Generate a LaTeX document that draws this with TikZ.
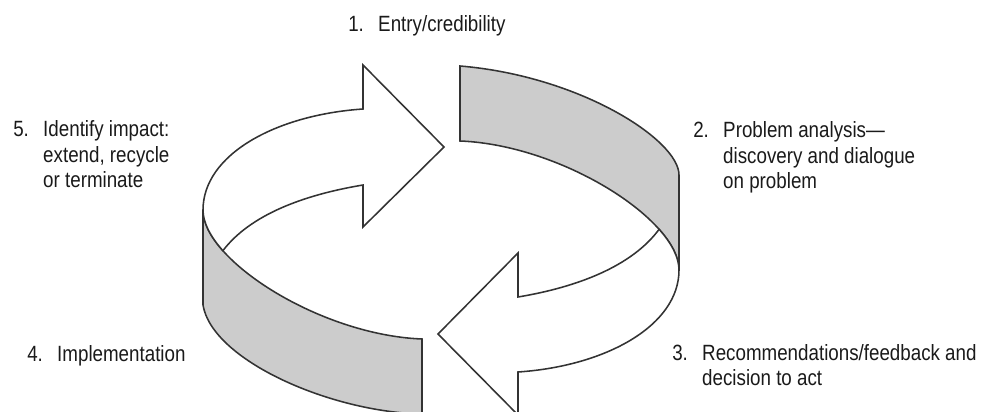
\documentclass[tikz,border=0pt]{standalone}
\usepackage{fontspec}
\setmainfont{Liberation Sans}[FakeStretch=0.85]
\usepackage{array}
\usetikzlibrary{positioning}

\definecolor{ringline}{HTML}{333333}
\definecolor{ringgrey}{HTML}{CCCCCC}
\definecolor{lbltext}{HTML}{1A1A1A}
\newcommand{\lblfont}{\fontsize{15.7pt}{18.1pt}\selectfont}

\begin{document}
\begin{tikzpicture}[
  x=0.025cm, y=-0.025cm,
  ring/.style={draw=ringline, line width=1.1pt, line join=miter},
  face/.style={ring, fill=white},
  side/.style={ring, fill=ringgrey},
  lbl/.style={anchor=base west, inner sep=0pt, text=lbltext, font=\lblfont}
]
\useasboundingbox (0,0) rectangle (984,412);
\clip (0,0) rectangle (984,412);

% where the inner edges meet the outer ones
\coordinate (j1) at (222.9,250.7);
\coordinate (j2) at (659.1,229.3);

% grey sides of the band
\draw[side] (460,66) .. controls (580,76) and (679,140) .. (679,175) -- (679,270)
  .. controls (679,257.5) and (671.7,243.4) .. (j2)
  .. controls (621.4,186.9) and (536.5,144) .. (460,141) -- cycle;
\draw[side] (203,210) .. controls (203,222.5) and (210.3,236.6) .. (j1)
  .. controls (260.6,293.1) and (345.5,336) .. (422,339) -- (422,414)
  .. controls (330,412) and (212,360) .. (203,305) -- cycle;

% white arrows
\draw[face] (363,109) .. controls (275,115) and (203,155) .. (203,210)
  .. controls (203,222.5) and (210.3,236.6) .. (j1)
  .. controls (250,215) and (303,195) .. (363,185)
  -- (363,227) -- (444,147) -- (363,65) -- cycle;
\draw[face] (518,372) .. controls (607,366) and (679,325) .. (679,270)
  .. controls (679,257.5) and (671.7,243.4) .. (j2)
  .. controls (632,266) and (578,287) .. (518,297)
  -- (518,253) -- (438,334) -- (518,415) -- cycle;

% labels
\node[lbl] (entry) at (348,32)
  {\begin{tabular}[t]{@{}p{21.3pt}@{}l@{}}1. & Entry/credibility\end{tabular}};
\node[lbl] (analysis) at (693,138)
  {\begin{tabular}[t]{@{}p{21.3pt}@{}l@{}}2. & Problem analysis—\\ & discovery and dialogue\\ & on problem\end{tabular}};
\node[lbl] (recommend) at (672,360)
  {\begin{tabular}[t]{@{}p{21.3pt}@{}l@{}}3. & Recommendations/feedback and\\ & decision to act\end{tabular}};
\node[lbl] (implement) at (27,361)
  {\begin{tabular}[t]{@{}p{21.3pt}@{}l@{}}4. & Implementation\end{tabular}};
\node[lbl] (impact) at (13,137)
  {\begin{tabular}[t]{@{}p{21.3pt}@{}l@{}}5. & Identify impact:\\ & extend, recycle\\ & or terminate\end{tabular}};
\end{tikzpicture}
\end{document}
